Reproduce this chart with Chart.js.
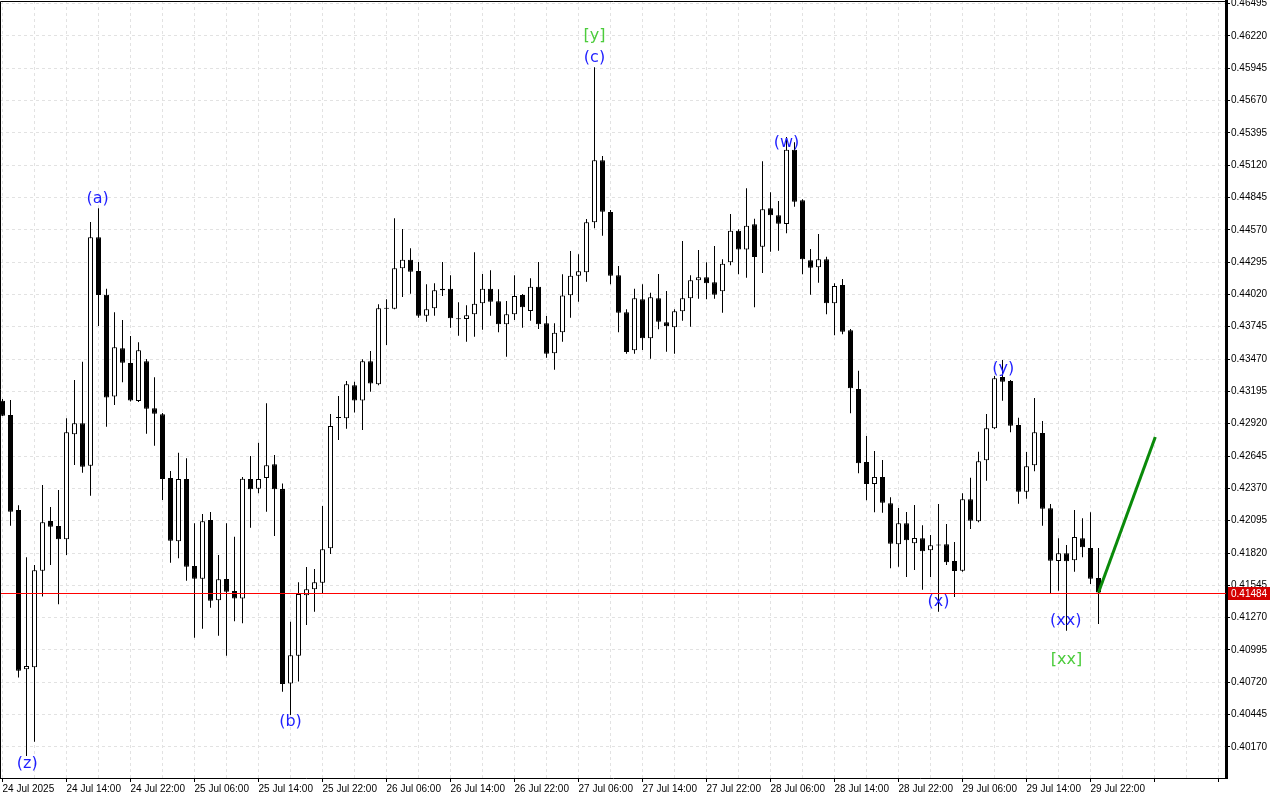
<!DOCTYPE html>
<html>
<head>
<meta charset="utf-8">
<title>H1 chart</title>
<script src="https://cdn.jsdelivr.net/npm/chart.js@4.4.1/dist/chart.umd.min.js"></script>
<style>
    html, body { margin: 0; padding: 0; background: #ffffff; }
    #wrap { width: 1280px; height: 800px; }
</style>
</head>
<body>
<div id="wrap"><canvas id="priceChart" width="1280" height="800"></canvas></div>
<script>
/* ==========================
   DATA (H1 candles from 24 Jul 06:00)
========================== */
const opens = [
    0.43116, 0.42994, 0.42186, 0.40831, 0.40848, 0.41670, 0.42092, 0.42050, 0.41937, 0.42830,
    0.42923, 0.42563, 0.44506, 0.44018, 0.43151, 0.43561, 0.43436, 0.43113, 0.43451, 0.43051,
    0.43000, 0.42458, 0.41920, 0.42450, 0.41710, 0.41602, 0.42101, 0.41418, 0.41599, 0.41497,
    0.41432, 0.42450, 0.42367, 0.42458, 0.42575, 0.42364, 0.40709, 0.40947, 0.41460, 0.41512,
    0.41568, 0.41860, 0.42973, 0.42966, 0.43247, 0.43117, 0.43452, 0.43255, 0.43904, 0.43898,
    0.44242, 0.44315, 0.44219, 0.43839, 0.43902, 0.44055, 0.44069, 0.43817, 0.43811, 0.43851,
    0.43944, 0.44069, 0.43961, 0.43766, 0.43851, 0.44015, 0.43879, 0.44086, 0.43774, 0.43519,
    0.43697, 0.44012, 0.44179, 0.44208, 0.44633, 0.45161, 0.44721, 0.44182, 0.43868, 0.43544,
    0.43978, 0.43646, 0.43987, 0.43783, 0.43740, 0.43876, 0.43987, 0.44140, 0.44165, 0.44123,
    0.44046, 0.44293, 0.44562, 0.44403, 0.44616, 0.44426, 0.44752, 0.44693, 0.44619, 0.45251,
    0.44820, 0.44310, 0.44250, 0.44318, 0.43944, 0.44100, 0.43715, 0.43215, 0.42594, 0.42407,
    0.42467, 0.42243, 0.41894, 0.42073, 0.41903, 0.41945, 0.41843, 0.41888, 0.41894, 0.41752,
    0.41670, 0.42277, 0.42090, 0.42609, 0.42881, 0.43317, 0.43283, 0.42909, 0.42342, 0.42566,
    0.42841, 0.42200, 0.41752, 0.41818, 0.41758, 0.41945, 0.41863, 0.41608
];
const highs = [
    0.43130, 0.43122, 0.42226, 0.41784, 0.41718, 0.42399, 0.42211, 0.42356, 0.42966, 0.43292,
    0.43447, 0.44636, 0.44752, 0.44069, 0.43868, 0.43802, 0.43666, 0.43612, 0.43470, 0.43315,
    0.43011, 0.42518, 0.42673, 0.42626, 0.42073, 0.42152, 0.42169, 0.41803, 0.42073, 0.41959,
    0.42467, 0.42645, 0.42758, 0.43094, 0.42654, 0.42412, 0.41236, 0.41571, 0.41701, 0.41684,
    0.42220, 0.43003, 0.43156, 0.43283, 0.43277, 0.43469, 0.43538, 0.43936, 0.43979, 0.44667,
    0.44576, 0.44412, 0.44295, 0.44106, 0.44114, 0.44295, 0.44182, 0.43953, 0.43927, 0.44378,
    0.44193, 0.44225, 0.44063, 0.43964, 0.44182, 0.44023, 0.44157, 0.44295, 0.43836, 0.43774,
    0.44191, 0.44389, 0.44361, 0.44661, 0.45952, 0.45197, 0.44738, 0.44261, 0.43893, 0.44069,
    0.44106, 0.44034, 0.44193, 0.44049, 0.43893, 0.44474, 0.44182, 0.44398, 0.44293, 0.44432,
    0.44318, 0.44704, 0.44574, 0.44922, 0.44664, 0.45152, 0.44888, 0.44814, 0.45359, 0.45314,
    0.44829, 0.44406, 0.44534, 0.44341, 0.44114, 0.44151, 0.43726, 0.43371, 0.42815, 0.42688,
    0.42611, 0.42294, 0.42203, 0.42169, 0.42228, 0.42056, 0.41973, 0.42237, 0.42067, 0.41914,
    0.42328, 0.42461, 0.42682, 0.43003, 0.43326, 0.43462, 0.43292, 0.42971, 0.42679, 0.43139,
    0.42943, 0.42237, 0.41945, 0.41888, 0.42186, 0.42115, 0.42166, 0.41863
];
const lows = [
    0.42986, 0.42052, 0.40760, 0.40093, 0.40215, 0.41449, 0.41718, 0.41384, 0.41803, 0.42569,
    0.42503, 0.42307, 0.43751, 0.42895, 0.43079, 0.43272, 0.43109, 0.43105, 0.42835, 0.42733,
    0.42271, 0.41738, 0.41775, 0.41585, 0.41100, 0.41176, 0.41355, 0.41117, 0.40947, 0.41239,
    0.41222, 0.42035, 0.42328, 0.42171, 0.41965, 0.40640, 0.40442, 0.40726, 0.41208, 0.41321,
    0.41477, 0.41812, 0.42781, 0.42878, 0.43015, 0.42866, 0.43192, 0.43247, 0.43589, 0.43893,
    0.43998, 0.44026, 0.43822, 0.43788, 0.43839, 0.44006, 0.43737, 0.43669, 0.43618, 0.43660,
    0.43720, 0.43839, 0.43697, 0.43490, 0.43802, 0.43737, 0.43796, 0.43726, 0.43481, 0.43379,
    0.43618, 0.43822, 0.43958, 0.44128, 0.44582, 0.44519, 0.44106, 0.43697, 0.43515, 0.43515,
    0.43547, 0.43473, 0.43723, 0.43532, 0.43515, 0.43796, 0.43745, 0.43983, 0.43978, 0.43983,
    0.43864, 0.44267, 0.44191, 0.44162, 0.43910, 0.44202, 0.44383, 0.44392, 0.44540, 0.44766,
    0.44191, 0.44018, 0.44119, 0.43851, 0.43672, 0.43680, 0.43009, 0.42498, 0.42268, 0.42166,
    0.42163, 0.41690, 0.41704, 0.41616, 0.41676, 0.41508, 0.41616, 0.41321, 0.41718, 0.41446,
    0.41661, 0.42024, 0.42081, 0.42435, 0.42875, 0.43116, 0.42847, 0.42240, 0.42282, 0.42515,
    0.42052, 0.41472, 0.41500, 0.41159, 0.41661, 0.41784, 0.41557, 0.41216
];
const closes = [
    0.42988, 0.42171, 0.40819, 0.40859, 0.41673, 0.42081, 0.42044, 0.41937, 0.42847, 0.42923,
    0.42554, 0.44506, 0.44015, 0.43142, 0.43570, 0.43439, 0.43117, 0.43544, 0.43048, 0.43005,
    0.42450, 0.41925, 0.42450, 0.41704, 0.41602, 0.42090, 0.41414, 0.41597, 0.41491, 0.41432,
    0.42452, 0.42362, 0.42450, 0.42566, 0.42362, 0.40706, 0.40950, 0.41472, 0.41512, 0.41571,
    0.41852, 0.42900, 0.42969, 0.43255, 0.43117, 0.43452, 0.43262, 0.43902, 0.43899, 0.44242,
    0.44315, 0.44213, 0.43839, 0.43893, 0.44055, 0.44069, 0.43817, 0.43808, 0.43842, 0.43941,
    0.44069, 0.43958, 0.43766, 0.43851, 0.44006, 0.43910, 0.44086, 0.43766, 0.43515, 0.43694,
    0.44011, 0.44179, 0.44216, 0.44633, 0.45161, 0.44723, 0.44179, 0.43864, 0.43530, 0.43987,
    0.43646, 0.43995, 0.43788, 0.43749, 0.43876, 0.43987, 0.44140, 0.44165, 0.44114, 0.44018,
    0.44281, 0.44562, 0.44403, 0.44604, 0.44338, 0.44744, 0.44693, 0.44621, 0.45251, 0.44808,
    0.44318, 0.44247, 0.44318, 0.43944, 0.44091, 0.43703, 0.43221, 0.42583, 0.42407, 0.42467,
    0.42248, 0.41899, 0.42073, 0.41928, 0.41948, 0.41835, 0.41886, 0.41883, 0.41741, 0.41667,
    0.42277, 0.42095, 0.42600, 0.42881, 0.43306, 0.43277, 0.42903, 0.42342, 0.42558, 0.42847,
    0.42197, 0.41755, 0.41818, 0.41750, 0.41956, 0.41869, 0.41602, 0.41484
];

// time axis labels, one every 8 bars
const xTickLabels = [
    "24 Jul 2025", "24 Jul 14:00", "24 Jul 22:00", "25 Jul 06:00", "25 Jul 14:00", "25 Jul 22:00",
    "26 Jul 06:00", "26 Jul 14:00", "26 Jul 22:00", "27 Jul 06:00", "27 Jul 14:00", "27 Jul 22:00",
    "28 Jul 06:00", "28 Jul 14:00", "28 Jul 22:00", "29 Jul 06:00", "29 Jul 14:00", "29 Jul 22:00"
];
const yTickValues = [
    0.40170, 0.40445, 0.40720, 0.40995, 0.41270, 0.41545, 0.41820, 0.42095, 0.42370, 0.42645,
    0.42920, 0.43195, 0.43470, 0.43745, 0.44020, 0.44295, 0.44570, 0.44845, 0.45120, 0.45395,
    0.45670, 0.45945, 0.46220, 0.46495
];

const lastPrice = 0.41484;

// projection line (bar index, price)
const forecastIdx = [137, 144.1];
const forecastPrice = [0.41484, 0.42807];

// wave marks (bar index, price)
const waveText  = ["(z)", "(a)", "(b)", "[y]", "(c)", "(w)", "(x)", "(y)", "(xx)", "[xx]"];
const waveIdx   = [3.1, 11.9, 36, 74, 74, 98, 117, 125.1, 132.9, 133];
const wavePrice = [0.40025, 0.44831, 0.40383, 0.46218, 0.46031, 0.45308, 0.41403, 0.43385, 0.41242, 0.40910];
const waveGreen = [false, false, false, true, false, false, false, false, false, true];

/* ==========================
   BUILD DATASETS
========================== */
const wickData = opens.map((o, i) => ({ x: i, y: [lows[i], highs[i]] }));
const bodyData = opens.map((o, i) => ({ x: i, y: [o, closes[i]] }));
const bodyFill = opens.map((o, i) => closes[i] > o ? "#ffffff" : "#000000");
const forecastData = forecastIdx.map((x, i) => ({ x: x, y: forecastPrice[i] }));

const FONT = "'Liberation Sans', Arial, sans-serif";

// keep the plot box fixed, no auto padding for overflowing labels
function noPadding(scale) {
    scale.paddingLeft = 0;
    scale.paddingRight = 0;
    scale.paddingTop = 0;
    scale.paddingBottom = 0;
}

/* ==========================
   PLUGIN: frame, price line, wave labels
========================== */
const overlayPlugin = {
    id: "overlay",
    afterDatasetsDraw(chart) {
        const { ctx, chartArea, scales } = chart;
        ctx.save();

        // bid line
        const yb = Math.round(scales.y.getPixelForValue(lastPrice));
        ctx.fillStyle = "#ff0000";
        ctx.fillRect(chartArea.left, yb, chartArea.right - chartArea.left, 1);

        // wave marks
        ctx.font = "16px 'DejaVu Sans', sans-serif";
        ctx.textAlign = "center";
        ctx.textBaseline = "middle";
        waveText.forEach((t, i) => {
            ctx.fillStyle = waveGreen[i] ? "#4ccc3c" : "#1f1fff";
            ctx.fillText(t, scales.x.getPixelForValue(waveIdx[i]), scales.y.getPixelForValue(wavePrice[i]));
        });
        ctx.restore();
    },
    afterDraw(chart) {
        const { ctx, chartArea, scales } = chart;
        ctx.save();
        // left and top frame lines
        ctx.strokeStyle = "#000000";
        ctx.lineWidth = 1;
        ctx.beginPath();
        ctx.moveTo(chartArea.left + 0.5, chartArea.bottom);
        ctx.lineTo(chartArea.left + 0.5, chartArea.top + 0.5);
        ctx.lineTo(chartArea.right, chartArea.top + 0.5);
        ctx.stroke();

        // last price tag
        const y = Math.round(scales.y.getPixelForValue(lastPrice));
        ctx.fillStyle = "#d40000";
        ctx.fillRect(chartArea.right + 2, y - 6, 42, 13);
        ctx.fillStyle = "#ffffff";
        ctx.font = "10px " + FONT;
        ctx.textAlign = "left";
        ctx.textBaseline = "middle";
        ctx.fillText(lastPrice.toFixed(5), chartArea.right + 5, y + 1);
        ctx.restore();
    }
};

/* ==========================
   CHART
========================== */
function drawChart() {
    const ctx = document.getElementById("priceChart");

    new Chart(ctx, {
        type: "bar",
        data: {
            datasets: [
                {
                    type: "line",
                    label: "Projection",
                    data: forecastData,
                    borderColor: "#0a8a0a",
                    borderWidth: 3,
                    pointRadius: 0,
                    order: 0
                },
                {
                    label: "Body",
                    data: bodyData,
                    backgroundColor: bodyFill,
                    borderColor: "#000000",
                    borderWidth: 1,
                    borderSkipped: false,
                    barThickness: 5,
                    minBarLength: 1,
                    inflateAmount: 0,
                    grouped: false,
                    order: 1
                },
                {
                    label: "Wick",
                    data: wickData,
                    backgroundColor: "#000000",
                    borderWidth: 0,
                    barThickness: 1,
                    inflateAmount: 0,
                    grouped: false,
                    order: 2
                }
            ]
        },
        options: {
            responsive: false,
            devicePixelRatio: 1,
            animation: false,
            layout: { padding: { top: 1, left: 0, right: 0, bottom: 0 } },
            plugins: {
                legend: { display: false },
                tooltip: { enabled: false }
            },
            scales: {
                x: {
                    type: "linear",
                    offset: false,
                    min: -0.3125,
                    max: 152.9375,
                    afterBuildTicks: scale => {
                        const t = [];
                        for (let v = 0; v <= 152; v += 4) t.push({ value: v });
                        scale.ticks = t;
                    },
                    afterFit: scale => { scale.height = 22; noPadding(scale); },
                    grid: {
                        offset: false,
                        color: "#e2e2e2",
                        lineWidth: 1,
                        tickLength: 4,
                        tickBorderDash: [],
                        tickColor: c => (c.tick && c.tick.value % 8 === 0) ? "#000000" : "rgba(0,0,0,0)"
                    },
                    border: { display: true, color: "#000000", width: 1, dash: [3, 3] },
                    ticks: {
                        autoSkip: false,
                        maxRotation: 0,
                        minRotation: 0,
                        align: "start",
                        padding: 1,
                        color: "#000000",
                        font: { family: FONT, size: 10 },
                        callback: v => (v % 8 === 0 && xTickLabels[v / 8]) ? xTickLabels[v / 8] : ""
                    }
                },
                y: {
                    position: "right",
                    min: 0.39906,
                    max: 0.46516,
                    afterBuildTicks: scale => {
                        scale.ticks = yTickValues.map(v => ({ value: v }));
                    },
                    afterFit: scale => { scale.width = 54; noPadding(scale); },
                    grid: {
                        color: "#e2e2e2",
                        lineWidth: 1,
                        tickLength: 4,
                        tickBorderDash: [],
                        tickColor: "#000000"
                    },
                    border: { display: true, color: "#000000", width: 3, dash: [3, 3] },
                    ticks: {
                        padding: 1,
                        color: "#000000",
                        font: { family: FONT, size: 10 },
                        callback: v => v.toFixed(5)
                    }
                }
            }
        },
        plugins: [overlayPlugin]
    });
}

drawChart();
</script>
</body>
</html>
